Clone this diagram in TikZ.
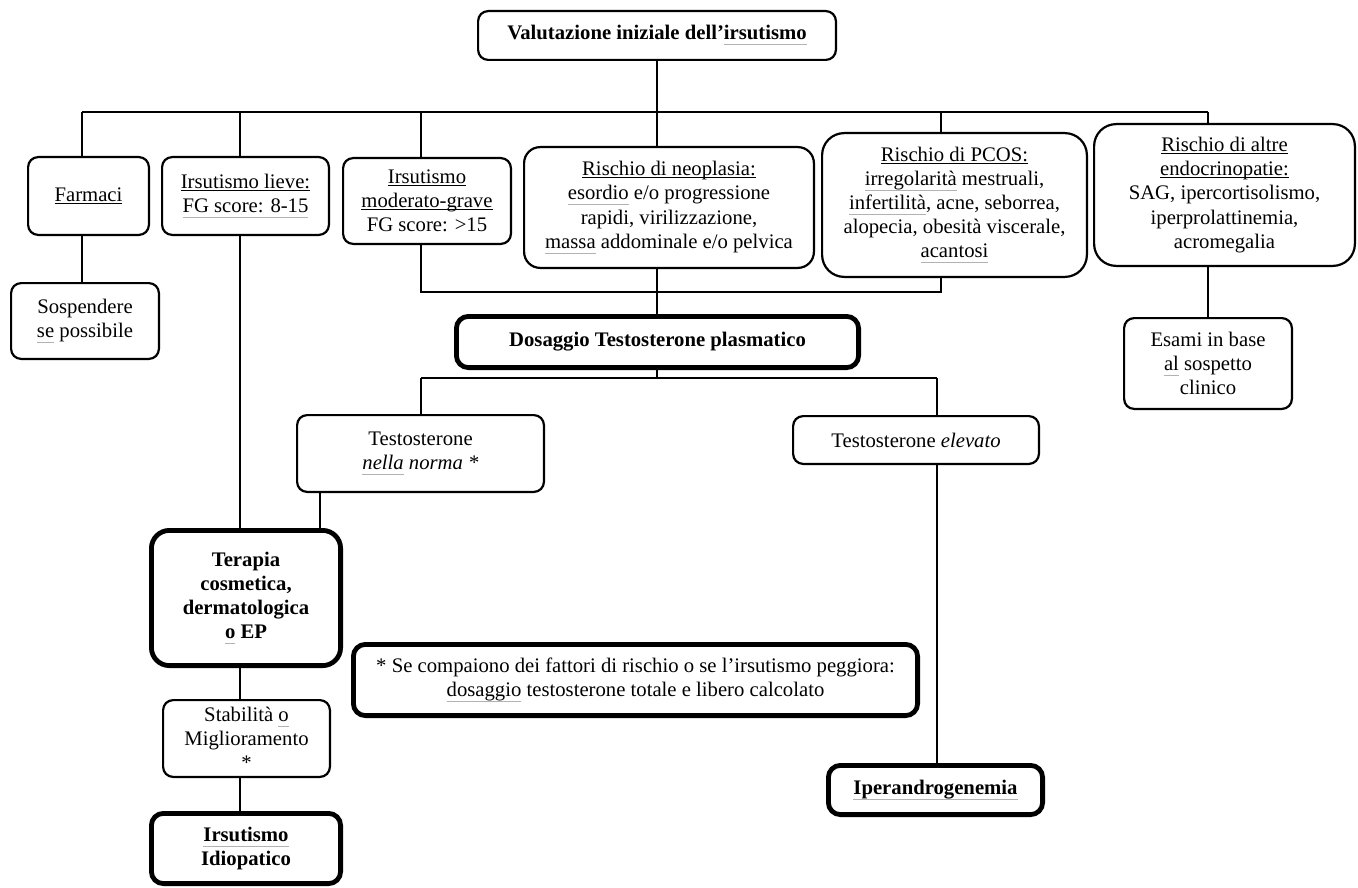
\documentclass[tikz,border=0pt]{standalone}
\usepackage{fontspec}
\setmainfont{Liberation Serif}
\newsavebox{\markbox}
\newcommand{\ul}[1]{\sbox{\markbox}{#1}\leavevmode\rlap{\rule[-2.6pt]{\wd\markbox}{1.1pt}}\usebox{\markbox}}
\newcommand{\spell}[1]{\sbox{\markbox}{#1}\leavevmode\rlap{\textcolor{black!30}{\rule[-5.5pt]{\wd\markbox}{1pt}}}\usebox{\markbox}}
\begin{document}
\begin{tikzpicture}[x=1pt,y=-1pt,line width=2pt,
        every node/.style={font=\fontsize{20.7}{24.2}\selectfont, align=center, inner sep=0pt},
        box/.style={draw, line width=2.2pt, rounded corners=10pt},
        thickbox/.style={draw, line width=4.8pt, rounded corners=12pt},
        bold/.style={font=\fontsize{20.7}{24.2}\selectfont\bfseries}]
            \fill[white] (0,0) rectangle (1358,888);
            \useasboundingbox (0,0) rectangle (1358,888);

            \node (1) [box, bold, minimum width=357.8pt, minimum height=48.8pt] at (657,35.5) {Valutazione iniziale dell’\spell{irsutismo}};
            \node (2) [box, minimum width=120.8pt, minimum height=77.8pt] at (88.5,196) {\ul{Farmaci}};
            \node (3) [box, minimum width=166.8pt, minimum height=77.8pt] at (245.5,196) {\ul{Irsutismo lieve:}\\\spell{FG score: 8-15}};
            \node (4) [box, minimum width=167.8pt, minimum height=85.8pt] at (427,201) {\ul{Irsutismo}\\\ul{moderato-grave}\\FG score: >15};
            \node (5) [box, rounded corners=16pt, minimum width=289.8pt, minimum height=120.8pt] at (669,207.5) {\ul{Rischio di neoplasia:}\\\spell{esordio} e/o progressione\\rapidi, virilizzazione,\\\spell{massa} addominale e/o pelvica};
            \node (6) [box, rounded corners=22pt, minimum width=264.8pt, minimum height=143.8pt] at (954.5,205) {\ul{Rischio di PCOS:}\\\spell{irregolarità} mestruali,\\\spell{infertilità}, acne, seborrea,\\alopecia, obesità viscerale,\\\spell{acantosi}};
            \node (7) [box, rounded corners=22pt, minimum width=260.8pt, minimum height=141.8pt] at (1224.5,195) {\ul{Rischio di altre}\\\ul{endocrinopatie:}\\SAG, ipercortisolismo,\\iperprolattinemia,\\acromegalia};
            \node (8) [box, minimum width=147.8pt, minimum height=75.8pt] at (85,321) {Sospendere\\\spell{se} possibile};
            \node (9) [thickbox, bold, minimum width=402.2pt, minimum height=51.2pt] at (657.5,342) {Dosaggio Testosterone plasmatico};
            \node (10) [box, minimum width=167.8pt, minimum height=90.8pt] at (1208,363.5) {Esami in base\\\spell{al} sospetto\\clinico};
            \node (11) [box, minimum width=246.8pt, minimum height=76.8pt] at (420.5,453.5) {Testosterone\\\textit{\spell{nella} norma *}};
            \node (12) [box, minimum width=245.8pt, minimum height=47.8pt] at (916,440) {Testosterone \textit{elevato}};
            \node (13) [thickbox, bold, rounded corners=18pt, minimum width=189.2pt, minimum height=135.2pt] at (246,598) {Terapia\\cosmetica,\\dermatologica\\\spell{o} EP};
            \node (14) [thickbox, minimum width=564.2pt, minimum height=71.2pt] at (635.5,680) {* Se compaiono dei fattori di rischio o se l’irsutismo peggiora:\\\spell{dosaggio} testosterone totale e libero calcolato};
            \node (15) [box, minimum width=166.8pt, minimum height=76.8pt] at (246.5,738.5) {Stabilità \spell{o}\\Miglioramento\\*};
            \node (16) [thickbox, bold, minimum width=214.2pt, minimum height=49.2pt] at (935.5,790) {\spell{Iperandrogenemia}};
            \node (17) [thickbox, bold, minimum width=189.2pt, minimum height=70.2pt] at (246,848.5) {\spell{Irsutismo}\\Idiopatico};

            \coordinate (t1) at (82,112);
            \coordinate (t2) at (240,112);
            \coordinate (t3) at (421,112);
            \coordinate (t4) at (657,112);
            \coordinate (t5) at (941,112);
            \coordinate (t6) at (1208,112);
            \coordinate (m1) at (421,292);
            \coordinate (m2) at (941,292);
            \coordinate (d1) at (421,378);
            \coordinate (d2) at (937,378);
            \coordinate (n1) at (320,493);

            \draw (1) -- (t4);
            \draw (t1) -- (t6);
            \draw (t1) -- (t1 |- 2.north);
            \draw (t2) -- (t2 |- 3.north);
            \draw (t3) -- (t3 |- 4.north);
            \draw (t4) -- (t4 |- 5.north);
            \draw (t5) -- (t5 |- 6.north);
            \draw (t6) -- (t6 |- 7.north);
            \draw (t1 |- 2.south) -- (t1 |- 8.north);
            \draw (t2 |- 3.south) -- (t2 |- 13.north);
            \draw (t3 |- 4.south) -- (m1) -- (m2) -- (t5 |- 6.south);
            \draw (t4 |- 5.south) -- (t4 |- 9.north);
            \draw (t6 |- 7.south) -- (t6 |- 10.north);
            \draw (t4 |- 9.south) -- (t4 |- d1);
            \draw (d1) -- (d2);
            \draw (d1) -- (d1 |- 11.north);
            \draw (d2) -- (d2 |- 12.north);
            \draw (d2 |- 12.south) -- (d2 |- 16.north);
            \draw (n1 |- 11.south) -- (n1 |- 13.north);
            \draw (t2 |- 13.south) -- (t2 |- 15.north);
            \draw (t2 |- 15.south) -- (t2 |- 17.north);

        \end{tikzpicture}
\end{document}
